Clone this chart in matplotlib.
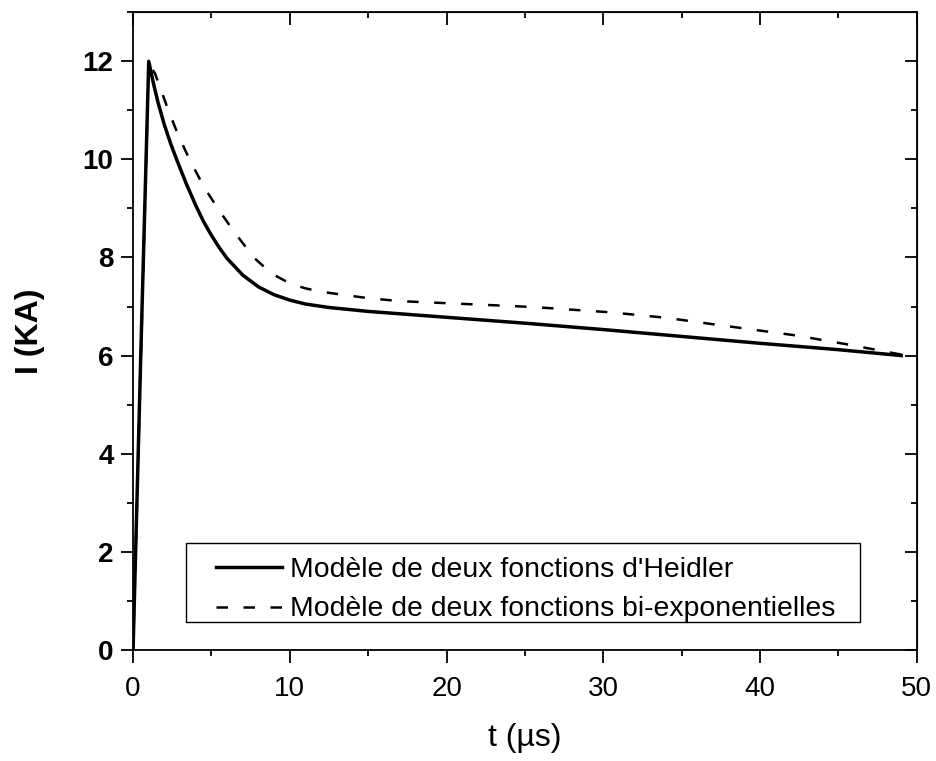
import matplotlib
matplotlib.use("Agg")
import matplotlib.pyplot as plt
from matplotlib.patches import Rectangle
from matplotlib.ticker import MultipleLocator

plt.rcParams["font.family"] = ["Liberation Sans", "DejaVu Sans"]

# Heidler model (two Heidler functions)
t_heidler = [0, 0.5, 1.0, 1.3, 1.6, 2.0, 2.4, 2.8, 3.4, 4.0, 4.5, 5.0, 5.5, 6.0,
             7.0, 8.0, 9.0, 10.0, 11.0, 12.5, 15, 20, 25, 30, 35, 40, 45, 49]
i_heidler = [0, 6.1, 12.0, 11.55, 11.15, 10.7, 10.32, 9.98, 9.5, 9.06, 8.73,
             8.45, 8.2, 7.98, 7.64, 7.40, 7.24, 7.13, 7.05, 6.98, 6.90, 6.78,
             6.66, 6.53, 6.39, 6.25, 6.12, 6.0]

# bi-exponential model (two bi-exponential functions)
t_biexp = [0, 1.0, 1.4, 1.8, 2.25, 2.9, 3.6, 4.5, 5.4, 6.5, 7.7, 8.8, 10, 11, 12,
           15, 17, 22, 25.5, 30.5, 34, 37.2, 42.3, 45.7, 49]
i_biexp = [0, 11.95, 11.75, 11.4, 11.0, 10.48, 10.0, 9.45, 9.0, 8.5, 8.0, 7.68,
           7.47, 7.37, 7.3, 7.17, 7.11, 7.04, 6.99, 6.88, 6.77, 6.63, 6.41, 6.22,
           6.02]

fig = plt.figure(figsize=(9.37, 7.61), dpi=100)
ax = fig.add_axes([0.142, 0.146, 0.8365, 0.838])

ax.plot(t_heidler, i_heidler, color="black", lw=2.5,
        label="Modèle de deux fonctions d'Heidler")
ax.plot(t_biexp, i_biexp, color="black", lw=1.8, dashes=(4.6, 6.2),
        label="Modèle de deux fonctions bi-exponentielles")

ax.set_xlim(0, 50)
ax.set_ylim(0, 13)
ax.xaxis.set_major_locator(MultipleLocator(10))
ax.xaxis.set_minor_locator(MultipleLocator(5))
ax.yaxis.set_major_locator(MultipleLocator(2))
ax.yaxis.set_minor_locator(MultipleLocator(1))

for s in ax.spines.values():
    s.set_linewidth(1.3)

ax.tick_params(which="both", top=False, right=False, direction="out", width=1.3)
ax.tick_params(which="major", length=9, labelsize=20)
ax.tick_params(which="minor", length=4.5)
ax.tick_params(axis="x", which="major", pad=10)
ax.tick_params(axis="y", which="major", pad=5)
for lab in ax.get_yticklabels():
    lab.set_fontweight("bold")

# inward ticks on top and right
sec_x = ax.secondary_xaxis("top")
sec_x.xaxis.set_major_locator(MultipleLocator(10))
sec_x.xaxis.set_minor_locator(MultipleLocator(5))
sec_x.tick_params(which="both", direction="in", width=1.3, labeltop=False)
sec_x.tick_params(which="major", length=9)
sec_x.tick_params(which="minor", length=4.5)
sec_y = ax.secondary_yaxis("right")
sec_y.yaxis.set_major_locator(MultipleLocator(2))
sec_y.yaxis.set_minor_locator(MultipleLocator(1))
sec_y.tick_params(which="both", direction="in", width=1.3, labelright=False)
sec_y.tick_params(which="major", length=9)
sec_y.tick_params(which="minor", length=4.5)

ax.set_xlabel("t (µs)", fontsize=23, labelpad=15)
ax.set_ylabel("I (KA)", fontsize=23, fontweight="bold", labelpad=27)

# legend frame drawn by hand, legend itself frameless
ax.add_patch(Rectangle((0.0676, 0.044), 0.8594, 0.124, transform=ax.transAxes,
                       facecolor="white", edgecolor="black", lw=1.0, zorder=4))
leg = ax.legend(loc="upper left", bbox_to_anchor=(0.1059, 0.1455), frameon=False,
                fontsize=20.4, handlelength=2.33, handletextpad=0.28,
                borderaxespad=0, borderpad=0, labelspacing=0.47)
leg.set_zorder(5)

fig.savefig("out.png", dpi=100)
